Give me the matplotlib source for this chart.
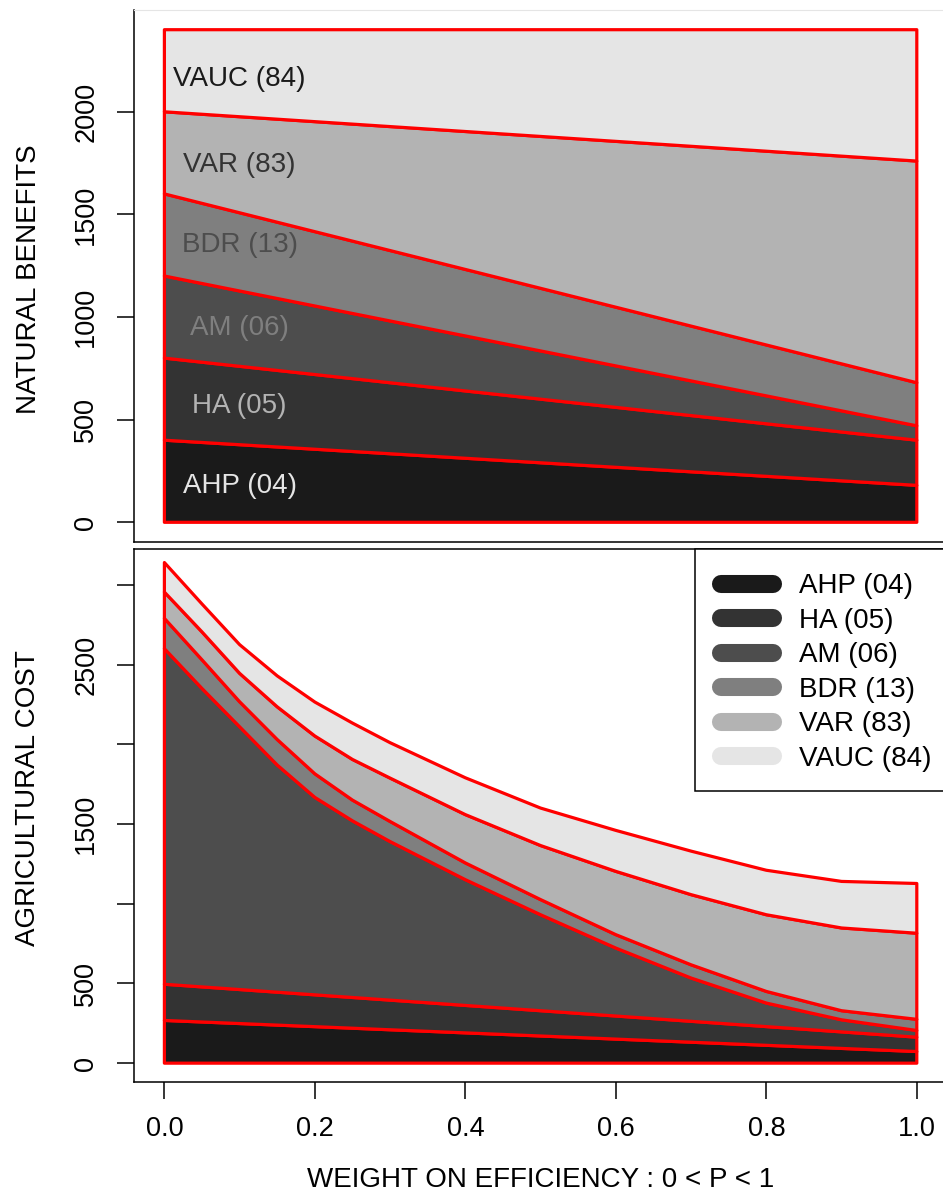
import matplotlib
matplotlib.use('Agg')
import matplotlib.pyplot as plt
from matplotlib.lines import Line2D
from matplotlib.patches import Rectangle

plt.rcParams['font.family'] = ['Liberation Sans', 'DejaVu Sans']

# Methods, stacked from the bottom band to the top band
methods = ['AHP (04)', 'HA (05)', 'AM (06)', 'BDR (13)', 'VAR (83)', 'VAUC (84)']
band_grays = ['#1a1a1a', '#333333', '#4d4d4d', '#7f7f7f', '#b3b3b3', '#e5e5e5']
text_grays = band_grays[::-1]

# Weight on efficiency P
p_ends = [0.0, 1.0]
p_grid = [0.0, 0.05, 0.1, 0.15, 0.2, 0.25, 0.3, 0.4, 0.5, 0.6, 0.7, 0.8, 0.9, 1.0]

# NATURAL BENEFITS : cumulative top of each band (straight lines)
nb_ahp = [400, 180]
nb_ha = [800, 400]
nb_am = [1200, 470]
nb_bdr = [1600, 680]
nb_var = [2000, 1760]
nb_vauc = [2400, 2400]
nb_label_y = [175, 565, 945, 1350, 1740, 2160]

# AGRICULTURAL COST : cumulative top of each band
ac_ahp = [268, 73]
ac_ha = [495, 163]
ac_am = [2600, 2350, 2110, 1870, 1667, 1520, 1390, 1151, 931, 722, 534, 377, 272, 205]
ac_bdr = [2790, 2530, 2267, 2030, 1815, 1650, 1516, 1256, 1026, 806, 617, 450, 329, 275]
ac_var = [2955, 2705, 2445, 2235, 2052, 1905, 1788, 1559, 1365, 1203, 1057, 931, 848, 815]
ac_vauc = [3140, 2880, 2625, 2429, 2265, 2133, 2010, 1790, 1600, 1460, 1330, 1210, 1140, 1127]

W, H = 943, 1200
fig = plt.figure(figsize=(W / 100, H / 100), dpi=100)


def px_axes(left, top, right, bottom):
    return fig.add_axes([left / W, 1 - bottom / H, (right - left) / W, (bottom - top) / H])


def stack_bands(ax, tops):
    low_x, low_y = p_ends, [0, 0]
    for (xs, ys), col in zip(tops, band_grays):
        ax.fill(list(xs) + list(low_x)[::-1], list(ys) + list(low_y)[::-1],
                facecolor=col, edgecolor='red', linewidth=2.3, joinstyle='round', zorder=2)
        low_x, low_y = xs, ys


def style_axes(ax):
    for s in ax.spines.values():
        s.set_linewidth(1.1)
        s.set_color('black')
    ax.tick_params(axis='y', length=12.2, width=1.1, pad=13, labelsize=19.5, labelrotation=90)
    plt.setp(ax.get_yticklabels(), va='center')


# top panel
ax1 = px_axes(134.3, 10, 946.9, 542)
stack_bands(ax1, [(p_ends, nb_ahp), (p_ends, nb_ha), (p_ends, nb_am),
                  (p_ends, nb_bdr), (p_ends, nb_var), (p_ends, nb_vauc)])
for name, y, c in zip(methods, nb_label_y, text_grays):
    ax1.text(0.1, y, name, ha='center', va='center', fontsize=20, color=c, zorder=3)
ax1.set_xlim(-0.04, 1.04)
ax1.set_ylim(-96, 2496)
ax1.set_yticks([0, 500, 1000, 1500, 2000])
ax1.set_xticks([])
style_axes(ax1)
ax1.spines['top'].set_color('#e5e5e5')
ax1.spines['top'].set_linewidth(0.8)

# bottom panel
ax2 = px_axes(134.3, 549, 946.9, 1082.3)
stack_bands(ax2, [(p_ends, ac_ahp), (p_ends, ac_ha), (p_grid, ac_am),
                  (p_grid, ac_bdr), (p_grid, ac_var), (p_grid, ac_vauc)])
ax2.set_xlim(-0.04, 1.04)
ax2.set_ylim(-120, 3225)
ax2.set_yticks([0, 500, 1000, 1500, 2000, 2500, 3000])
ax2.set_yticklabels(['0', '500', '', '1500', '', '2500', ''])
ax2.set_xticks([0.0, 0.2, 0.4, 0.6, 0.8, 1.0])
ax2.set_xticklabels(['0.0', '0.2', '0.4', '0.6', '0.8', '1.0'])
style_axes(ax2)
ax2.tick_params(axis='x', length=12.2, width=1.1, pad=12.3, labelsize=19.5)

# overlay in pixel units for axis titles and legend
lay = fig.add_axes([0, 0, 1, 1])
lay.set_xlim(0, W)
lay.set_ylim(H, 0)
lay.axis('off')

lay.text(29.5, 279, 'NATURAL BENEFITS', rotation=90, ha='center', va='center', fontsize=20)
lay.text(27.8, 798, 'AGRICULTURAL COST', rotation=90, ha='center', va='center', fontsize=20)
lay.text(540.6, 1180.3, 'WEIGHT ON EFFICIENCY : 0 < P < 1', ha='center', va='center', fontsize=20)

lay.add_patch(Rectangle((695, 549), 300, 241.7, facecolor='white', edgecolor='black', linewidth=1.1))
for i, (name, c) in enumerate(zip(methods, band_grays)):
    row = 583.6 + 34.56 * i
    lay.add_line(Line2D([721, 773], [row, row], color=c, linewidth=13, solid_capstyle='round'))
    lay.text(799, row + 2.5, name, ha='left', va='center', fontsize=20)

fig.savefig('out.png', dpi=100)
